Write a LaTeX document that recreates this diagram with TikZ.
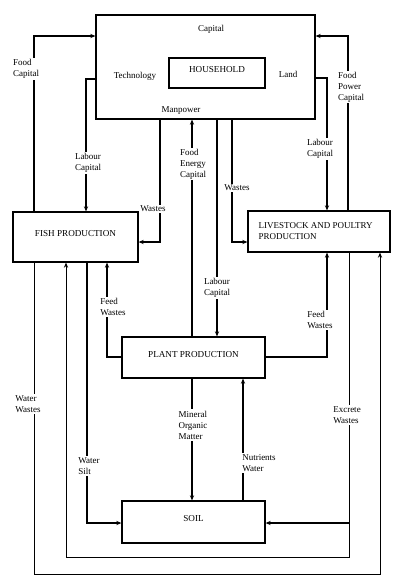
\documentclass[tikz,border=0pt]{standalone}
\usepackage{fontspec}
\setmainfont{Liberation Serif}
\usetikzlibrary{calc,positioning,arrows,arrows.meta,fit,shapes}

\begin{document}
\begin{tikzpicture}[x=0.025cm,y=-0.025cm,>={Stealth[length=3.6pt,width=3pt]},
    box/.style={draw,line width=0.9pt,inner sep=0pt,
      font=\fontsize{6.5}{7.8}\selectfont},
    ele/.style={inner sep=1pt,font=\fontsize{6.4}{7.8}\selectfont},
    lbl/.style={fill=white,inner sep=1pt,align=left,
      font=\fontsize{6.4}{7.8}\selectfont},
    flow/.style={->,line width=0.8pt},
    loop/.style={->,line width=0.6pt}]

    \useasboundingbox (0,0) rectangle (400,587);

    % the boxes
    \node[box,fit={(96,15) (315,119)}] (hh) {};
    \node[box,fit={(169,58) (265,88)}] (hhin) {HOUSEHOLD};
    \node[box,fit={(13,212) (138,262)}] (fish) {FISH PRODUCTION};
    \node[box,fit={(248,211) (390,252)}] (live) {};
    \node[box,fit={(122,337) (265,378)}] (plant) {PLANT PRODUCTION};
    \node[box,fit={(122,501) (265,543)}] (soil) {SOIL};

    \node[ele,anchor=west,align=left] (livetxt) at (257,231)
      {LIVESTOCK AND POULTRY\\PRODUCTION};
    \node[ele] (capital) at (211,29) {Capital};
    \node[ele] (tech) at (135,76) {Technology};
    \node[ele] (land) at (288,74) {Land};
    \node[ele] (manpower) at (181,111) {Manpower};

    % the flows
    \draw[flow] (34,0 |- fish.north) |- (hh.west |- 0,36);
    \draw[flow] (hh.west |- 0,79) -| (86,0 |- fish.north);
    \draw[flow] (160,0 |- hh.south) |- (fish.east |- 0,242);
    \draw[flow] (192,0 |- plant.north) -- (192,0 |- hh.south);
    \draw[flow] (217,0 |- hh.south) -- (217,0 |- plant.north);
    \draw[flow] (232,0 |- hh.south) |- (live.west |- 0,242);
    \draw[flow] (hh.east |- 0,78) -| (327,0 |- live.north);
    \draw[flow] (348,0 |- live.north) |- (hh.east |- 0,36);
    \draw[flow] (plant.west |- 0,357) -| (107,0 |- fish.south);
    \draw[flow] (plant.east |- 0,357) -| (327,0 |- live.south);
    \draw[flow] (192,0 |- plant.south) -- (192,0 |- soil.north);
    \draw[flow] (243,0 |- soil.north) -- (243,0 |- plant.south);
    \draw[flow] (87,0 |- fish.south) |- (soil.west |- 0,523);
    \coordinate (exc) at (349,523);
    \draw[flow] (exc) -- (soil.east |- exc);
    \draw[loop] (349,0 |- live.south) -- (349,557) -| (66,0 |- fish.south);
    \draw[loop] (34,0 |- fish.south) -- (34,574) -| (380,0 |- live.south);

    % the texts
    \node[lbl] (l1) at (26,69) {Food\\Capital};
    \node[lbl] (l2) at (351,87) {Food\\Power\\Capital};
    \node[lbl] (l3) at (320,149) {Labour\\Capital};
    \node[lbl] (l4) at (88,163) {Labour\\Capital};
    \node[lbl] (l5) at (153,209) {Wastes};
    \node[lbl] (l6) at (193,164) {Food\\Energy\\Capital};
    \node[lbl] (l7) at (237,188) {Wastes};
    \node[lbl] (l8) at (217,288) {Labour\\Capital};
    \node[lbl] (l9) at (113,307) {Feed\\Wastes};
    \node[lbl] (l10) at (320,320) {Feed\\Wastes};
    \node[lbl] (l11) at (28,404) {Water\\Wastes};
    \node[lbl] (l12) at (193,425) {Mineral\\Organic\\Matter};
    \node[lbl] (l13) at (347,415) {Excrete\\Wastes};
    \node[lbl] (l14) at (89,466) {Water\\Silt};
    \node[lbl] (l15) at (259,463) {Nutrients\\Water};

  \end{tikzpicture}
\end{document}
